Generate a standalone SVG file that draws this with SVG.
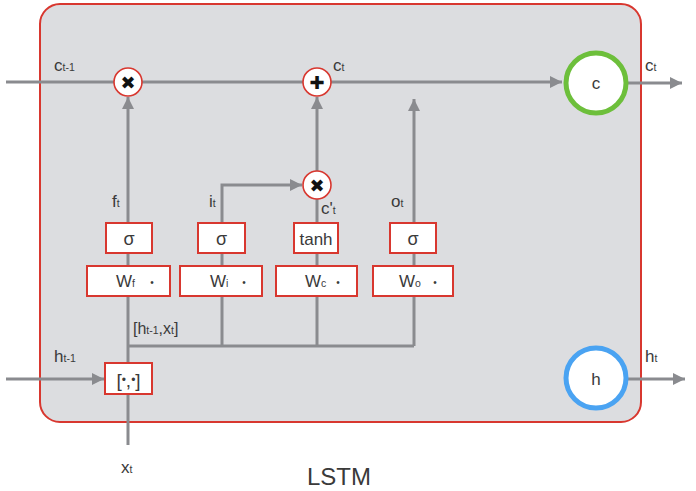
<svg xmlns="http://www.w3.org/2000/svg" width="696" height="491" viewBox="0 0 696 491">
<defs>
<marker id="arr" viewBox="0 0 10 10" refX="10" refY="5" markerWidth="13" markerHeight="12" markerUnits="userSpaceOnUse" orient="auto">
<path d="M0,0 L10,5 L0,10 z" fill="#8a8b8f"/>
</marker>
<style>
.ln{stroke:#8a8b8f;stroke-width:3;fill:none}
.box{fill:#fff;stroke:#d8372f;stroke-width:2}
.op{fill:#fff;stroke:#d8372f;stroke-width:1.6}
.t{font-family:"Liberation Sans",Arial,sans-serif;fill:#3a3a3a}
.m{font-size:17px}
.s{font-size:10.5px}
.sym{font-family:"DejaVu Sans",sans-serif;font-size:18px;fill:#111;text-anchor:middle}
</style>
</defs>
<rect width="696" height="491" fill="#fff"/>
<g id="cell">
<rect x="40" y="4" width="601" height="418" rx="20" fill="#dcdde0" stroke="#d8372f" stroke-width="2"/>
</g>
<g id="connectors">
<line class="ln" x1="6" y1="82" x2="562" y2="82" marker-end="url(#arr)"/>
<line class="ln" x1="628" y1="83" x2="682" y2="83" marker-end="url(#arr)"/>
<line class="ln" x1="628" y1="379" x2="685" y2="379" marker-end="url(#arr)"/>
<line class="ln" x1="6" y1="379" x2="104" y2="379" marker-end="url(#arr)"/>
<line class="ln" x1="128" y1="445" x2="128" y2="97" marker-end="url(#arr)"/>
<polyline class="ln" points="128,346 414,346"/>
<polyline class="ln" points="222,346 222,185 302,185" marker-end="url(#arr)"/>
<line class="ln" x1="317" y1="346" x2="317" y2="199"/>
<line class="ln" x1="317" y1="171" x2="317" y2="97" marker-end="url(#arr)"/>
<line class="ln" x1="414" y1="346" x2="414" y2="99" marker-end="url(#arr)"/>
</g>
<g id="mul_f">
<circle class="op" cx="128" cy="82" r="14"/>
<text class="sym" x="128" y="88.5">✖</text>
</g>
<g id="add_c">
<circle class="op" cx="317" cy="82" r="14"/>
<text class="sym" x="317" y="88.5" font-size="16">✚</text>
</g>
<g id="mul_i">
<circle class="op" cx="317" cy="185" r="14"/>
<text class="sym" x="317" y="191.5">✖</text>
</g>
<g id="c_node">
<circle cx="596" cy="83" r="30" fill="#fff" stroke="#6dbf3b" stroke-width="5"/>
<text class="t m" x="596" y="89" text-anchor="middle">c</text>
</g>
<g id="h_node">
<circle cx="596" cy="378" r="30" fill="#fff" stroke="#4aa3f2" stroke-width="5"/>
<text class="t m" x="596" y="385" text-anchor="middle">h</text>
</g>
<g id="sig_f">
<rect class="box" x="106" y="223" width="46" height="30"/>
<text class="t" x="129" y="245" font-size="18" text-anchor="middle">σ</text>
</g>
<g id="sig_i">
<rect class="box" x="198" y="223" width="47" height="30"/>
<text class="t" x="221.5" y="245" font-size="18" text-anchor="middle">σ</text>
</g>
<g id="tanh_c">
<rect class="box" x="294" y="223" width="44" height="30"/>
<text class="t" x="316" y="245" font-size="17" text-anchor="middle">tanh</text>
</g>
<g id="sig_o">
<rect class="box" x="390" y="223" width="46" height="30"/>
<text class="t" x="413" y="245" font-size="18" text-anchor="middle">σ</text>
</g>
<g id="W_f">
<rect class="box" x="87" y="266" width="83" height="30"/>
<text class="t m" x="116" y="287">W<tspan class="s">f</tspan></text>
<text class="t" x="152" y="286" font-size="10" text-anchor="middle">•</text>
</g>
<g id="W_i">
<rect class="box" x="180" y="266" width="82" height="30"/>
<text class="t m" x="210" y="287">W<tspan class="s">i</tspan></text>
<text class="t" x="244" y="286" font-size="10" text-anchor="middle">•</text>
</g>
<g id="W_c">
<rect class="box" x="276" y="266" width="81" height="30"/>
<text class="t m" x="305" y="287">W<tspan class="s">c</tspan></text>
<text class="t" x="338" y="286" font-size="10" text-anchor="middle">•</text>
</g>
<g id="W_o">
<rect class="box" x="373" y="266" width="80" height="30"/>
<text class="t m" x="399" y="287">W<tspan class="s">o</tspan></text>
<text class="t" x="435" y="286" font-size="10" text-anchor="middle">•</text>
</g>
<g id="concat">
<rect class="box" x="105" y="363" width="47" height="31"/>
<text class="t" x="128.5" y="387" font-size="19" text-anchor="middle">[<tspan font-size="12" dy="-3">•</tspan><tspan dy="3">,</tspan><tspan font-size="12" dy="-3">•</tspan><tspan dy="3">]</tspan></text>
</g>
<g id="labels">
<text class="t m" x="54" y="71">c<tspan class="s">t-1</tspan></text>
<text class="t m" x="333" y="71">c<tspan class="s">t</tspan></text>
<text class="t m" x="645" y="71">c<tspan class="s">t</tspan></text>
<text class="t m" x="112" y="207">f<tspan class="s">t</tspan></text>
<text class="t m" x="209" y="207">i<tspan class="s">t</tspan></text>
<text class="t m" x="321" y="214">c'<tspan class="s">t</tspan></text>
<text class="t m" x="391" y="207">o<tspan class="s">t</tspan></text>
<text class="t" x="133" y="334" font-size="16">[h<tspan class="s">t-1</tspan>,x<tspan class="s">t</tspan>]</text>
<text class="t m" x="54" y="362">h<tspan class="s">t-1</tspan></text>
<text class="t m" x="645" y="362">h<tspan class="s">t</tspan></text>
<text class="t m" x="121" y="473">x<tspan class="s">t</tspan></text>
<text class="t" x="307" y="485" font-size="24">LSTM</text>
</g>
</svg>
